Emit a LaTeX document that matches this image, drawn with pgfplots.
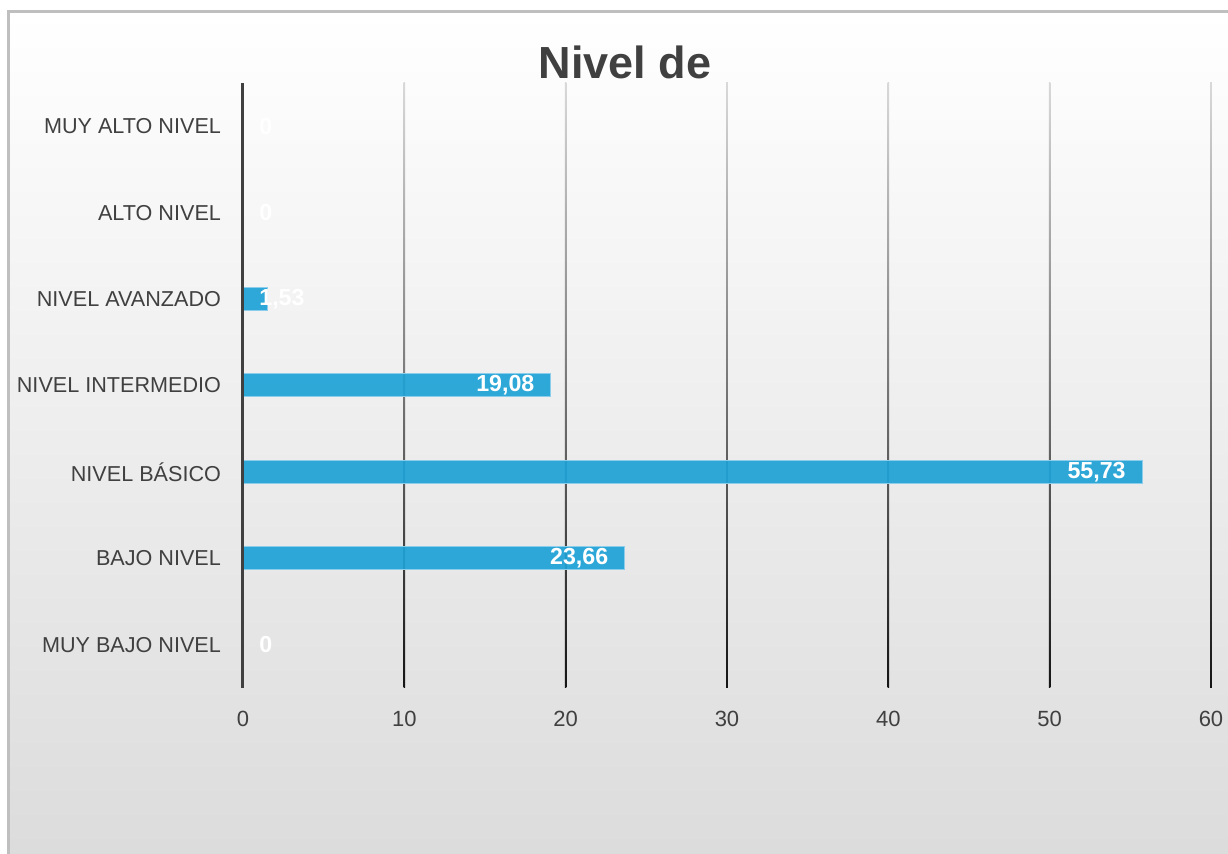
\documentclass[border=0pt]{standalone}
\usepackage{pgfplots}
\pgfplotsset{compat=1.18}
\usepackage{pgfplotstable}
\usepackage{fontspec}
\setmainfont{Liberation Sans}
\definecolor{txt}{HTML}{404040}
\definecolor{barblue}{RGB}{30,162,214}
\definecolor{baredge}{RGB}{140,205,235}
\definecolor{bord}{HTML}{BFBFBF}
\definecolor{bgbot}{HTML}{DBDBDB}

\pgfplotstableread{
y x lab
0 0 {}
1 23.66 {23,66}
2 55.73 {55,73}
3 19.08 {19,08}
4 1.53 {}
5 0 {}
6 0 {}
}\bars

\pgfplotstableread{
y x lab
0 0 {0}
4 0 {1,53}
5 0 {0}
6 0 {0}
}\leftlabels

\begin{document}
\begin{tikzpicture}[x=0.5pt,y=0.5pt]
\useasboundingbox (0,0) rectangle (1228,854);
\begin{scope}
\clip (0,0) rectangle (1228,854);
\fill[white] (0,0) rectangle (1228,854);
\shade[top color=white, bottom color=bgbot] (8.5,-20) rectangle (1260,842.5);
\draw[bord, line width=1.5pt] (8.5,-20) -- (8.5,842.5) -- (1260,842.5);
\end{scope}
\node[font=\fontsize{22.5}{27}\selectfont\bfseries, text=txt] at (625,792) {Nivel de};
\begin{axis}[
  at={(121.5pt,83pt)}, anchor=south west,
  scale only axis, width=484pt, height=302.5pt,
  xmin=0, xmax=60, ymin=-0.5, ymax=6.5,
  axis line style={draw=none},
  xtick={0,10,...,60}, ytick={0,...,6},
  yticklabels={MUY BAJO NIVEL, BAJO NIVEL, NIVEL BÁSICO, NIVEL INTERMEDIO, NIVEL AVANZADO, ALTO NIVEL, MUY ALTO NIVEL},
  major tick length=0pt,
  /pgf/number format/assume math mode=true,
  xticklabel style={font=\fontsize{11}{13}\selectfont, text=txt, yshift=-8pt},
  yticklabel style={font=\fontsize{10.8}{12}\selectfont, text=txt, xshift=-7.5pt},
  clip=false,
]
\pgfplotsinvokeforeach{10,20,30,40,50,60}{
  \shade[top color=black!15, bottom color=black!92]
    ([xshift=-0.4pt]axis cs:#1,6.5) rectangle ([xshift=0.4pt]axis cs:#1,-0.5);
}
\addplot[xbar, bar width=11.5pt, fill=barblue, fill opacity=0.92, draw=baredge, line width=0.5pt,
  point meta=explicit symbolic,
  nodes near coords={\pgfplotspointmeta},
  nodes near coords style={anchor=east, xshift=-8pt, inner sep=0pt, text=white, text opacity=1,
    font=\fontsize{11.6}{13}\selectfont\bfseries}]
  table[x=x, y=y, meta=lab] {\bars};
\addplot[draw=none, mark=none,
  point meta=explicit symbolic,
  nodes near coords={\pgfplotspointmeta},
  nodes near coords style={anchor=west, xshift=8pt, inner sep=0pt, text=white,
    font=\fontsize{11.6}{13}\selectfont\bfseries}]
  table[x=x, y=y, meta=lab] {\leftlabels};
\draw[txt, line width=1.5pt] (axis cs:0,-0.5) -- (axis cs:0,6.5);
\end{axis}
\end{tikzpicture}
\end{document}
